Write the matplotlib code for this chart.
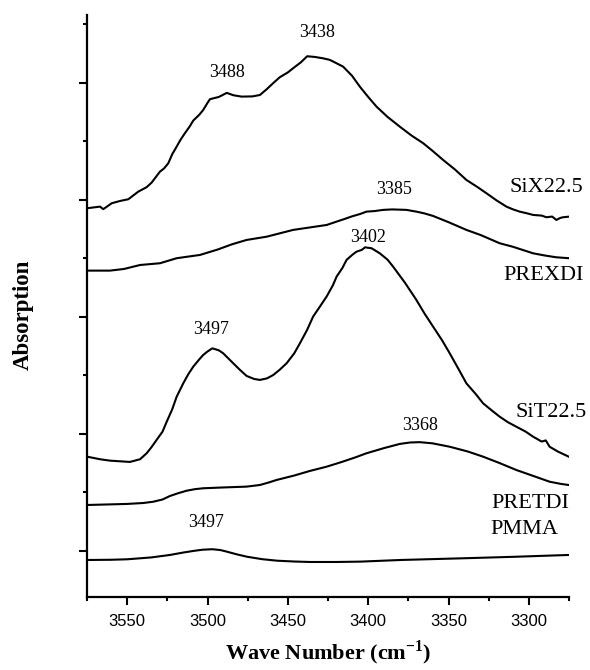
import matplotlib
matplotlib.use("Agg")
import matplotlib.pyplot as plt
from matplotlib.ticker import MultipleLocator, NullFormatter

plt.rcParams['font.family'] = ['Liberation Serif', 'DejaVu Serif']
plt.rcParams['mathtext.fontset'] = 'custom'
plt.rcParams['mathtext.rm'] = 'Liberation Serif:bold'

# FTIR N-H / O-H stretching region, spectra stacked with vertical offsets
six_x = [3575.0, 3566.9, 3564.9, 3559.6, 3554.5, 3549.3, 3543.1, 3537.9, 3534.8, 3529.6,
         3527.0, 3524.4, 3522.0, 3519.2, 3517.0, 3514.1, 3511.0, 3508.9, 3505.0, 3502.7,
         3500.0, 3498.5, 3493.0, 3488.0, 3484.0, 3478.8, 3472.0, 3467.4, 3463.2, 3459.0,
         3455.0, 3450.0, 3446.7, 3442.0, 3438.0, 3433.2, 3428.0, 3423.9, 3420.0, 3415.6,
         3410.0, 3405.2, 3400.0, 3394.8, 3388.0, 3380.3, 3373.0, 3365.8, 3360.0, 3353.4,
         3346.0, 3338.9, 3332.0, 3326.4, 3320.0, 3314.0, 3310.0, 3305.7, 3301.0, 3297.4,
         3292.0, 3289.1, 3285.5, 3282.9, 3280.5, 3278.8, 3275.2]
six_y = [2.929, 2.943, 2.921, 2.972, 2.991, 3.006, 3.071, 3.109, 3.148, 3.242,
         3.270, 3.314, 3.390, 3.456, 3.510, 3.570, 3.630, 3.678, 3.730, 3.769,
         3.830, 3.861, 3.880, 3.915, 3.895, 3.883, 3.885, 3.897, 3.946, 4.000,
         4.049, 4.090, 4.126, 4.175, 4.228, 4.222, 4.210, 4.197, 4.170, 4.139,
         4.060, 3.968, 3.880, 3.797, 3.710, 3.626, 3.550, 3.485, 3.420, 3.342,
         3.260, 3.171, 3.110, 3.057, 2.995, 2.943, 2.920, 2.900, 2.885, 2.872,
         2.866, 2.852, 2.858, 2.829, 2.846, 2.852, 2.857]

prexdi_x = [3575.0, 3560.7, 3552.0, 3542.0, 3529.6, 3519.2, 3504.7, 3493.5, 3485.0, 3475.7,
            3463.2, 3446.7, 3425.9, 3414.6, 3410.0, 3405.0, 3401.1, 3396.0, 3390.7, 3385.0,
            3376.2, 3370.0, 3365.0, 3359.6, 3350.0, 3338.9, 3330.0, 3318.2, 3310.0, 3297.4,
            3290.0, 3283.0, 3275.2]
prexdi_y = [2.396, 2.396, 2.410, 2.444, 2.459, 2.502, 2.530, 2.577, 2.620, 2.658,
            2.686, 2.744, 2.786, 2.838, 2.860, 2.880, 2.900, 2.905, 2.915, 2.919,
            2.915, 2.900, 2.885, 2.863, 2.810, 2.744, 2.700, 2.630, 2.600, 2.544,
            2.525, 2.510, 2.502]

sit_x = [3575.0, 3566.9, 3560.7, 3548.3, 3542.0, 3537.9, 3535.0, 3531.7, 3528.0, 3525.4,
         3522.0, 3519.2, 3515.1, 3512.0, 3508.9, 3505.0, 3502.7, 3500.0, 3497.0, 3493.0,
         3490.3, 3487.0, 3484.0, 3480.0, 3475.7, 3471.0, 3467.4, 3463.0, 3459.1, 3455.0,
         3450.8, 3446.0, 3442.5, 3438.0, 3434.3, 3430.0, 3425.9, 3422.0, 3419.7, 3416.0,
         3413.5, 3410.0, 3407.3, 3404.0, 3402.0, 3397.9, 3392.8, 3388.0, 3384.5, 3377.0,
         3370.0, 3365.0, 3359.6, 3354.0, 3349.3, 3344.0, 3338.9, 3333.0, 3328.5, 3323.0,
         3318.2, 3313.0, 3307.8, 3302.0, 3297.4, 3292.0, 3289.5, 3287.1, 3282.0, 3275.2]
sit_y = [0.806, 0.784, 0.772, 0.761, 0.784, 0.835, 0.885, 0.949, 1.020, 1.105,
         1.210, 1.319, 1.433, 1.510, 1.575, 1.640, 1.675, 1.705, 1.732, 1.715,
         1.690, 1.645, 1.604, 1.550, 1.496, 1.470, 1.462, 1.475, 1.504, 1.550,
         1.604, 1.690, 1.775, 1.890, 2.003, 2.090, 2.174, 2.270, 2.344, 2.420,
         2.487, 2.530, 2.558, 2.573, 2.595, 2.587, 2.544, 2.490, 2.430, 2.290,
         2.145, 2.030, 1.917, 1.800, 1.690, 1.560, 1.433, 1.340, 1.262, 1.200,
         1.148, 1.100, 1.062, 1.020, 0.977, 0.935, 0.945, 0.891, 0.850, 0.806]

pretdi_x = [3575.0, 3550.3, 3540.0, 3533.8, 3528.0, 3523.4, 3518.0, 3513.0, 3508.0, 3502.7,
            3490.0, 3475.7, 3467.4, 3462.0, 3457.0, 3446.0, 3436.3, 3426.0, 3416.4, 3408.0,
            3401.1, 3390.0, 3380.3, 3374.0, 3368.0, 3360.0, 3349.3, 3338.0, 3328.5, 3318.0,
            3307.8, 3297.0, 3287.1, 3280.0, 3275.2]
pretdi_y = [0.393, 0.402, 0.410, 0.421, 0.440, 0.470, 0.495, 0.515, 0.528, 0.536,
            0.543, 0.550, 0.564, 0.585, 0.607, 0.645, 0.684, 0.720, 0.761, 0.800,
            0.835, 0.880, 0.915, 0.927, 0.930, 0.920, 0.891, 0.850, 0.806, 0.750,
            0.692, 0.640, 0.592, 0.573, 0.564]

pmma_x = [3575.0, 3560.0, 3550.0, 3535.0, 3523.4, 3515.0, 3509.0, 3503.0, 3497.0, 3492.0,
          3487.9, 3482.0, 3475.5, 3466.0, 3456.8, 3446.0, 3436.3, 3420.0, 3405.0, 3380.0,
          3340.0, 3310.0, 3275.2]
pmma_y = [-0.077, -0.075, -0.071, -0.055, -0.034, -0.013, 0.000, 0.011, 0.015, 0.008,
          -0.006, -0.028, -0.049, -0.070, -0.083, -0.090, -0.094, -0.094, -0.091, -0.077,
          -0.062, -0.050, -0.034]

# peak annotations: (text, x, y)
peak_labels = [("3438", 3432, 4.43), ("3488", 3488, 4.09), ("3385", 3384, 3.09),
               ("3402", 3400, 2.68), ("3497", 3498, 1.89), ("3368", 3368, 1.07),
               ("3497", 3501, 0.24)]
series_labels = [("SiX22.5", 3289, 3.11), ("PREXDI", 3291, 2.35), ("SiT22.5", 3286, 1.18),
                 ("PRETDI", 3299, 0.41), ("PMMA", 3303, 0.18)]
x_ticks = [3550, 3500, 3450, 3400, 3350, 3300]

fig = plt.figure(figsize=(5.9, 6.7), dpi=100)
ax = fig.add_axes([0.1475, 0.109, 0.817, 0.8687])

for xs, ys in [(six_x, six_y), (prexdi_x, prexdi_y), (sit_x, sit_y),
               (pretdi_x, pretdi_y), (pmma_x, pmma_y)]:
    ax.plot(xs, ys, color='black', lw=1.5, solid_joinstyle='round')

for txt, x, y in peak_labels:
    ax.text(x, y, txt, ha='center', va='center', fontsize=13)
for txt, x, y in series_labels:
    ax.text(x, y, txt, ha='center', va='center', fontsize=16, clip_on=False)

ax.set_xlim(3575, 3275)
ax.set_ylim(-0.393, 4.581)
ax.set_xticks(x_ticks)
ax.xaxis.set_minor_locator(MultipleLocator(25))
ax.yaxis.set_major_locator(MultipleLocator(1))
ax.yaxis.set_minor_locator(MultipleLocator(0.5))
ax.yaxis.set_major_formatter(NullFormatter())

for side in ['top', 'right']:
    ax.spines[side].set_visible(False)
for side in ['left', 'bottom']:
    ax.spines[side].set_linewidth(1.6)

ax.tick_params(which='major', direction='out', length=6, width=1.5, pad=6)
ax.tick_params(which='minor', direction='out', length=3, width=1.5)
for lbl in ax.get_xticklabels():
    lbl.set_fontfamily('Liberation Sans')
    lbl.set_fontsize(12)

ax.set_xlabel(r'Wave Number (cm$^{\mathrm{-1}}$)', fontsize=16, fontweight='bold', labelpad=7)
ax.set_ylabel('Absorption', fontsize=16.5, fontweight='bold')
ax.yaxis.set_label_coords(-0.11, 0.485)

fig.savefig('out.png', dpi=100)
